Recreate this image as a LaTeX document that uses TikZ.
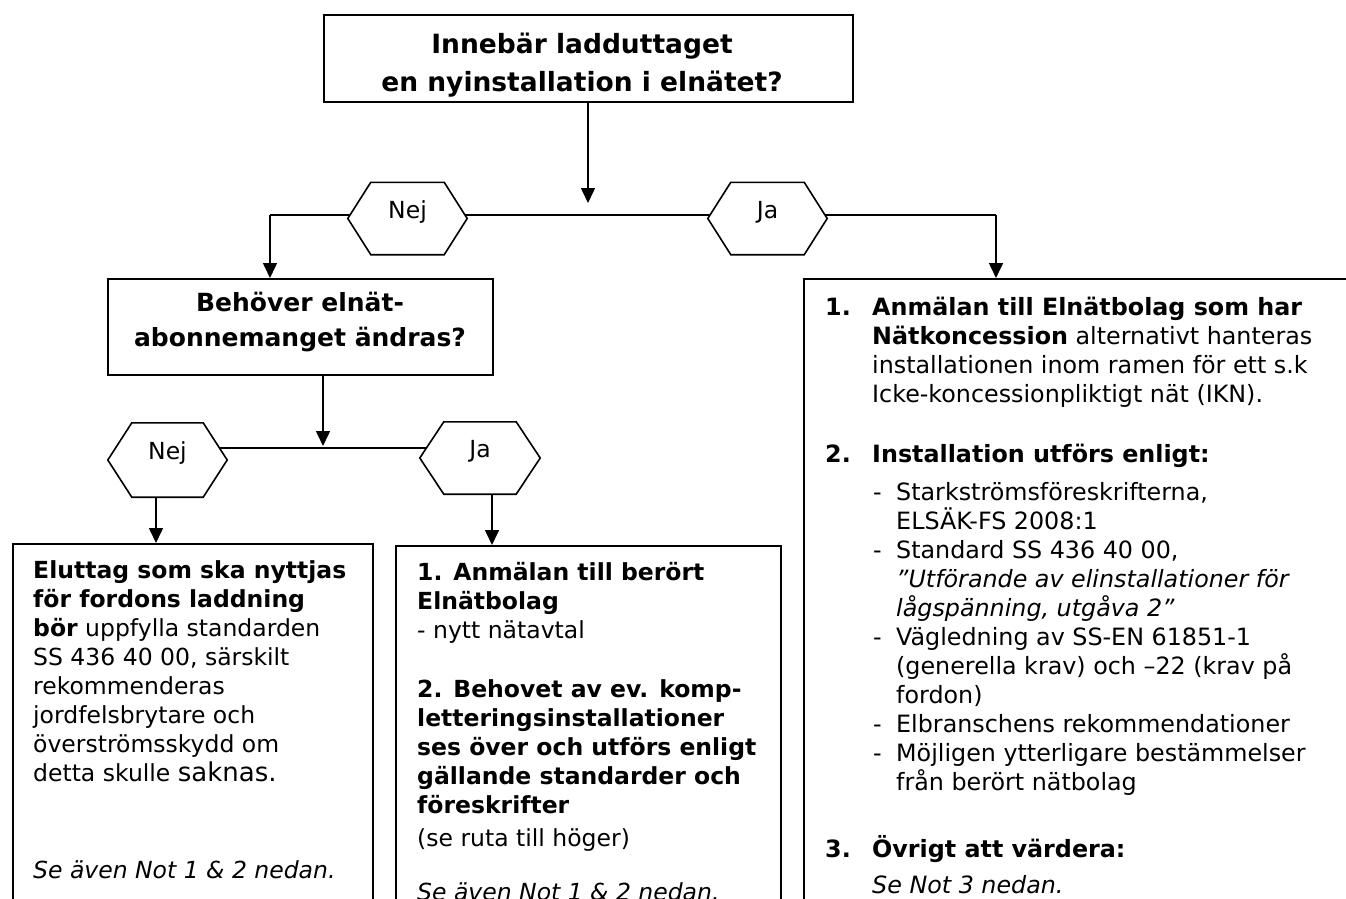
\documentclass[tikz,border=0pt]{standalone}
\usepackage{fontspec}
\setmainfont{DejaVu Sans}
\usetikzlibrary{positioning,arrows.meta,backgrounds}

\newcommand{\sexkant}[2]{\draw[linje,fill=white] (#1.west) -- ([xshift=#2]#1.north west) -- ([xshift=-#2]#1.north east) -- (#1.east) -- ([xshift=-#2]#1.south east) -- ([xshift=#2]#1.south west) -- cycle;}

\begin{document}
\begin{tikzpicture}[x=1pt,y=-1pt,
    ram/.style={draw,line width=2pt,inner sep=0pt,anchor=north west},
    hex/.style={inner sep=0pt,minimum width=119pt,minimum height=72pt,font=\fontsize{23.5}{26}\selectfont},
    rubrik/.style={align=center,inner sep=0pt,font=\fontsize{26.5}{38}\selectfont\bfseries},
    brod/.style={align=left,inner sep=0pt,anchor=north west,font=\fontsize{23.5}{29}\selectfont},
    linje/.style={line width=1.6pt},
    pil/.style={linje,-{Triangle[length=15pt,width=14pt]}}]
  \useasboundingbox (0,0) rectangle (1346,899);
  \clip (0,0) rectangle (1346,899);

  % rutor
  \node[ram,minimum width=529pt,minimum height=87pt] (fraga1) at (323,14) {};
  \node[rubrik] (fraga1txt) at (582,65) {Innebär ladduttaget\\en nyinstallation i elnätet?};
  \node[ram,minimum width=385pt,minimum height=96pt] (fraga2) at (107,278) {};
  \node[rubrik,font=\fontsize{25}{35}\selectfont\bfseries] (fraga2txt) at (300,322) {Behöver elnät-\\abonnemanget ändras?};
  \node[ram,minimum width=360pt,minimum height=420pt] (nejruta) at (12,543) {};
  \node[ram,minimum width=385pt,minimum height=420pt] (jaruta) at (395,545) {};
  \node[ram,minimum width=600pt,minimum height=700pt] (nyruta) at (803,278) {};

  % svar
  \node[hex] (nej1) at (407.5,218.5) {\raisebox{18pt}{Nej}};
  \node[hex] (ja1) at (767.5,218.5) {\raisebox{18pt}{Ja}};
  \node[hex,minimum height=74pt] (nej2) at (167.5,460) {\raisebox{18pt}{Nej}};
  \node[hex,minimum width=120pt] (ja2) at (480,458) {\raisebox{18pt}{Ja}};

  \coordinate (delning1) at (588,215);
  \coordinate (vanster1) at (270,215);
  \coordinate (hoger1) at (996,215);
  \coordinate (delning2) at (323,448);

  \begin{scope}[on background layer]
    \draw[linje] (vanster1) -- (hoger1);
    \draw[linje] (nej2.center |- delning2) -- (ja2.center |- delning2);
    \sexkant{nej1}{23pt}
    \sexkant{ja1}{23pt}
    \sexkant{nej2}{24pt}
    \sexkant{ja2}{24pt}
  \end{scope}

  \draw[pil] (fraga1.south -| delning1) -- ([yshift=12pt]delning1);
  \draw[pil] (vanster1) -- (vanster1 |- fraga2.north);
  \draw[pil] (hoger1) -- (hoger1 |- nyruta.north);
  \draw[pil] (fraga2.south -| delning2) -- ([yshift=2pt]delning2);
  \draw[pil] ([xshift=-11.5pt]nej2.south) -- ([xshift=-11.5pt]nej2.south |- nejruta.north);
  \draw[pil] ([xshift=12pt]ja2.south) -- ([xshift=12pt]ja2.south |- jaruta.north);

  % texter
  \node[brod] (nejtxt) at (33,560) {\textbf{Eluttag som ska nyttjas}\\
    \textbf{för fordons laddning}\\
    \textbf{bör} uppfylla standarden\\
    SS 436 40 00, särskilt\\
    rekommenderas\\
    jordfelsbrytare och\\
    överströmsskydd om\\
    detta skulle {\fontsize{26}{29}\selectfont saknas.}\\[68pt]
    \textit{Se även Not 1 \& 2 nedan.}};
  \node[brod] (jatxt) at (417,562) {\textbf{1. Anmälan till berört}\\
    \textbf{Elnätbolag}\\
    - nytt nätavtal\\[30pt]
    \textbf{2. Behovet av ev. komp-}\\
    \textbf{letteringsinstallationer}\\
    \textbf{ses över och utförs enligt}\\
    \textbf{gällande standarder och}\\
    \textbf{föreskrifter}\\[4pt]
    (se ruta till höger)\\[25pt]
    \textit{Se även Not 1 \& 2 nedan.}};
  \node[brod,font=\fontsize{23.8}{29}\selectfont] (nytxt) at (825,297) {%
    \makebox[47pt][l]{\textbf{1.}}\textbf{Anmälan till Elnätbolag som har}\\
    \hspace*{47pt}\textbf{Nätkoncession} alternativt hanteras\\
    \hspace*{47pt}installationen inom ramen för ett s.k\\
    \hspace*{47pt}Icke-koncessionpliktigt nät (IKN).\\[31pt]
    \makebox[47pt][l]{\textbf{2.}}\textbf{Installation utförs enligt:}\\[9pt]
    \hspace*{48pt}\makebox[23pt][l]{-}Starkströmsföreskrifterna,\\
    \hspace*{71pt}ELSÄK-FS 2008:1\\
    \hspace*{48pt}\makebox[23pt][l]{-}Standard SS 436 40 00,\\
    \hspace*{71pt}\textit{”Utförande av elinstallationer för}\\
    \hspace*{71pt}\textit{lågspänning, utgåva 2”}\\
    \hspace*{48pt}\makebox[23pt][l]{-}Vägledning av SS-EN 61851-1\\
    \hspace*{71pt}(generella krav) och –22 (krav på\\
    \hspace*{71pt}fordon)\\
    \hspace*{48pt}\makebox[23pt][l]{-}Elbranschens rekommendationer\\
    \hspace*{48pt}\makebox[23pt][l]{-}Möjligen ytterligare bestämmelser\\
    \hspace*{71pt}från berört nätbolag\\[38pt]
    \makebox[47pt][l]{\textbf{3.}}\textbf{Övrigt att värdera:}\\[7pt]
    \hspace*{47pt}\textit{Se Not 3 nedan.}};
\end{tikzpicture}
\end{document}
